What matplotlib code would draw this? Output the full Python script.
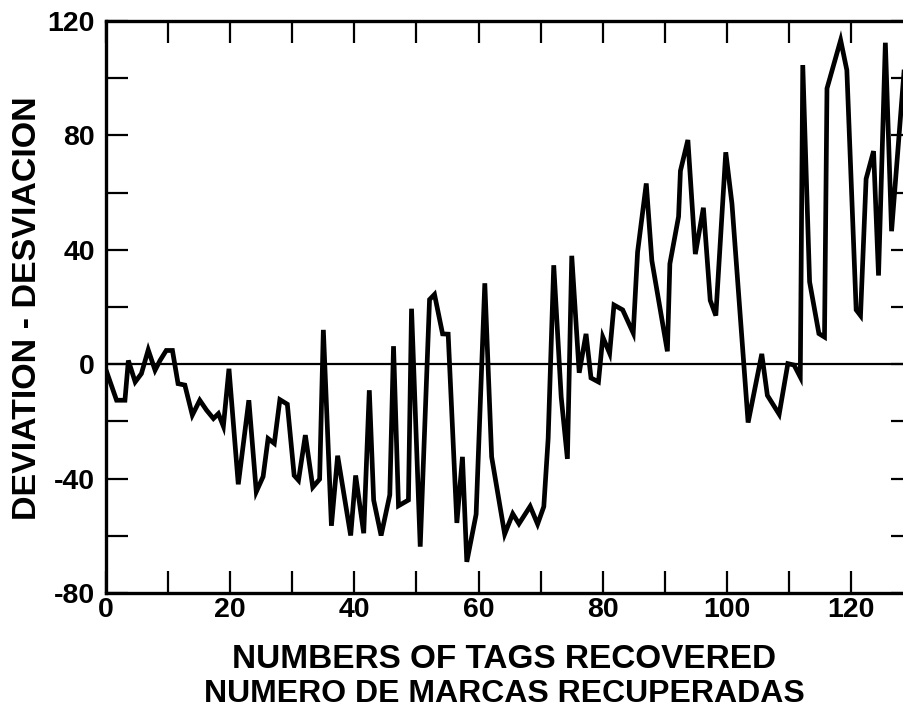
import numpy as np
import matplotlib.pyplot as plt

# tags recovered vs deviation
tags = [0, 1.7, 3.05, 3.6, 4.7, 5.7, 6.8, 7.9, 8.7, 9.7, 10.7, 11.6, 12.7,
        13.9, 15.1, 16.2, 17.3, 18.1, 18.9, 19.8, 21.3, 23, 24.2, 25.3, 26.1,
        27.1, 28, 29.2, 30.3, 31, 32.1, 33.3, 34.4, 35, 36.3, 37.3, 39.4,
        40.2, 41.5, 42.4, 43.1, 44.3, 45.7, 46.3, 47.1, 48.7, 49.2, 50.6,
        52.1, 52.9, 54.2, 55.1, 56.5, 57.4, 58.1, 59.6, 61, 62.1, 64.2, 65.5,
        66.5, 68.3, 69.5, 70.5, 71.2, 72.1, 73.3, 74.3, 75, 76.2, 77.3, 78.1,
        79.3, 80, 81.1, 81.8, 83.2, 84.9, 85.6, 87, 87.9, 90.4, 90.8, 92.2,
        92.5, 93.7, 94.9, 96.2, 97.3, 98.2, 99.8, 100.8, 103.4, 105.6, 106.5,
        108.4, 109.8, 110.8, 111.8, 112.2, 113.3, 114.8, 115.7, 116.1, 118.3,
        119.3, 120.8, 121.5, 122.4, 123.6, 124.4, 125.5, 126.5, 129]
deviation = [-2, -12.6, -12.6, 1.3, -6.2, -3.3, 5, -2.1, 1.3, 4.8, 4.8, -6.8,
             -7.3, -17.8, -12.6, -16.1, -19, -17.3, -21.7, -1.6, -42, -12.6,
             -44.6, -39.3, -26, -27.7, -12.4, -14, -38.9, -40.6, -24.8, -43,
             -40.2, 12, -56.5, -32, -59.9, -38.9, -59.1, -9.1, -47.5, -59.9,
             -45.7, 6.3, -49.5, -47.5, 19.4, -63.8, 22.6, 24.4, 10.6, 10.5,
             -55.5, -32.4, -69.1, -52.5, 28.3, -32.4, -59.4, -52.3, -55.8,
             -49.7, -55.9, -49.8, -26, 34.6, -11.5, -33.1, 37.9, -3, 10.6,
             -4.8, -6.2, 9.5, 3.8, 20.7, 19, 10.9, 39.2, 63.2, 36.2, 4.5, 35.1,
             51.6, 67.6, 78.4, 38.5, 54.7, 22.3, 17, 74.1, 56.1, -20.4, 3.6,
             -10.9, -17.5, 0.2, -0.3, -4.5, 104.6, 28.8, 10.7, 9.5, 96.4,
             113.3, 102.8, 19, 17, 64.8, 74.5, 31, 112.4, 46.5, 116]

x_labels = [0, 20, 40, 60, 80, 100, 120]
y_labels = [-80, -40, 0, 40, 80, 120]

plt.rcParams['font.family'] = ['Liberation Sans', 'DejaVu Sans']
plt.rcParams['font.weight'] = 'bold'

W, H = 904, 712
fig = plt.figure(figsize=(W / 100, H / 100), dpi=100)
# axes runs past the right edge of the picture, as in the cropped original
ax = fig.add_axes([106 / W, 119 / H, 130 * 6.21 / W, 572 / H])

ax.plot(tags, deviation, color='black', lw=3.4, solid_joinstyle='miter')
ax.axhline(0, color='black', lw=1.6)

ax.set_xlim(0, 130)
ax.set_ylim(-80, 120)
ax.set_xticks(np.arange(0, 131, 10))
ax.set_xticklabels([str(v) if v in x_labels else '' for v in range(0, 131, 10)])
ax.set_yticks(np.arange(-80, 121, 20))
ax.set_yticklabels([str(v) if v in y_labels else '' for v in range(-80, 121, 20)])

ax.tick_params(direction='in', length=16, width=1.6, top=True, right=True,
               labelsize=20.5)
ax.tick_params(axis='x', pad=3)
ax.tick_params(axis='y', pad=8)
for lab in ax.get_xticklabels() + ax.get_yticklabels():
    lab.set_fontweight('bold')
for sp in ax.spines.values():
    sp.set_linewidth(2.4)

fig.text(504 / W, 1 - 660 / H, 'NUMBERS OF TAGS RECOVERED', ha='center',
         va='center', fontsize=24, fontweight='bold')
fig.text(504 / W, 1 - 694 / H, 'NUMERO DE MARCAS RECUPERADAS', ha='center',
         va='center', fontsize=23, fontweight='bold')
fig.text(28 / W, 1 - 308 / H, 'DEVIATION - DESVIACION', ha='center',
         va='center', rotation=90, fontsize=24.5, fontweight='bold')

fig.savefig('out.png', dpi=100)
